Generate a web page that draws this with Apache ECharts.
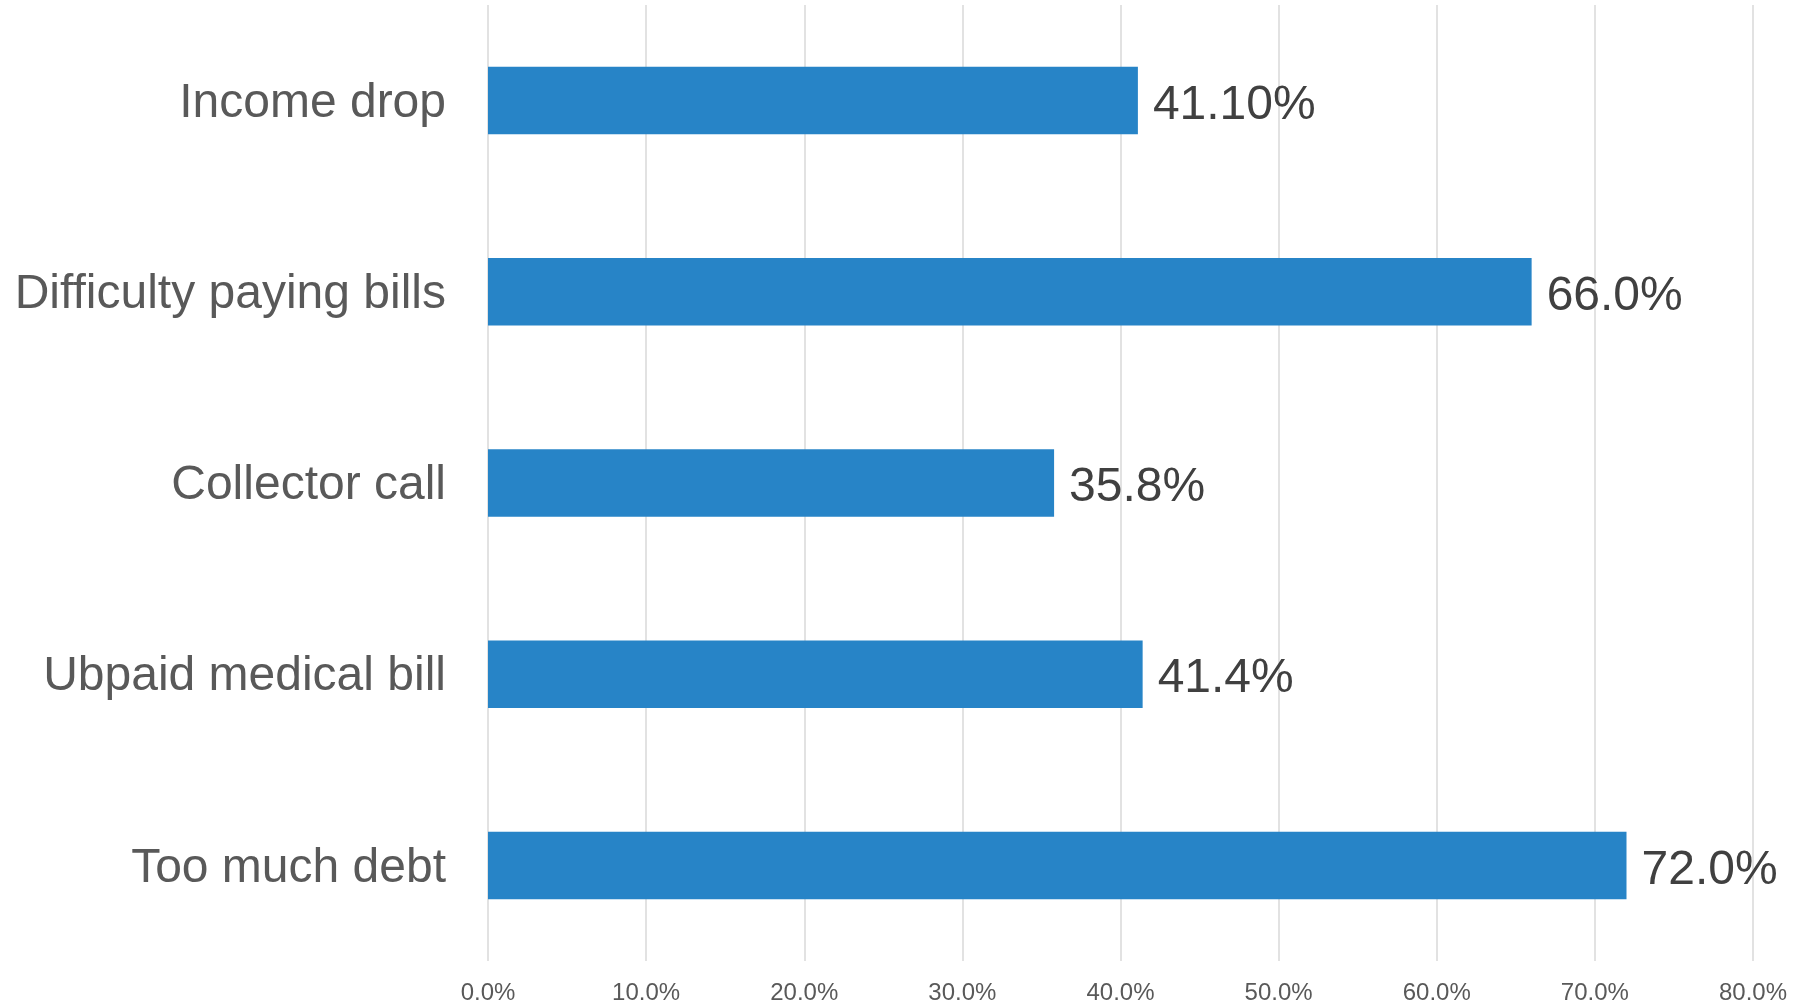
<!DOCTYPE html>
<html>
<head>
<meta charset="utf-8">
<script src="https://cdn.jsdelivr.net/npm/echarts@6/dist/echarts.min.js"></script>
<style>
  html, body { margin: 0; padding: 0; background: #ffffff; }
  #chart { width: 1819px; height: 1005px; }
</style>
</head>
<body>
<div id="chart"></div>
<script>
// Reasons reported, listed top to bottom
const categories = ['Income drop', 'Difficulty paying bills', 'Collector call', 'Ubpaid medical bill', 'Too much debt'];
// Share of respondents (%)
const values = [41.1, 66.0, 35.8, 41.4, 72.0];
// Decimal places shown in each bar's value label
const labelDecimals = [2, 1, 1, 1, 1];
// Value axis range and step (%)
const axisMin = 0;
const axisMax = 80;
const axisStep = 10;

const chart = echarts.init(document.getElementById('chart'), null, { renderer: 'canvas' });

chart.setOption({
  animation: false,
  backgroundColor: '#ffffff',
  grid: { left: 488, right: 66, top: 5, bottom: 42, containLabel: false },
  xAxis: {
    type: 'value',
    min: axisMin,
    max: axisMax,
    interval: axisStep,
    axisLine: { show: false },
    axisTick: { show: false },
    splitLine: { show: true, lineStyle: { color: '#d9d9d9', width: 1.5 } },
    axisLabel: {
      margin: 20,
      color: '#595959',
      fontSize: 24,
      fontFamily: 'Liberation Sans, Arial, sans-serif',
      formatter: v => v.toFixed(1) + '%'
    }
  },
  yAxis: {
    type: 'category',
    data: categories,
    inverse: true,
    axisLine: { show: false },
    axisTick: { show: false },
    splitLine: { show: false },
    axisLabel: {
      margin: 42,
      color: '#595959',
      fontSize: 48,
      // small line box hung from the row centre, nudging the text slightly lower
      verticalAlign: 'top',
      lineHeight: 6,
      fontFamily: 'Liberation Sans, Arial, sans-serif'
    }
  },
  series: [{
    type: 'bar',
    data: values,
    barWidth: '35.3%',
    itemStyle: { color: '#2784c7' },
    label: {
      show: true,
      position: 'right',
      distance: 15,
      offset: [0, 5],
      color: '#404040',
      fontSize: 48,
      fontFamily: 'Liberation Sans, Arial, sans-serif',
      formatter: p => p.value.toFixed(labelDecimals[p.dataIndex]) + '%'
    }
  }]
});
</script>
</body>
</html>
